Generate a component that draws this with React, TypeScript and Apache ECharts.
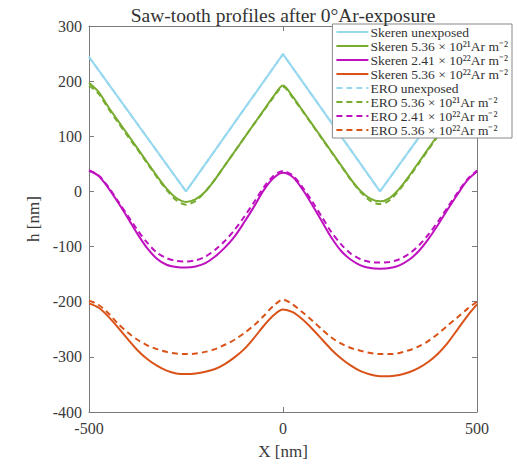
import React, { useEffect, useRef } from "react";
import * as echarts from "echarts";

// x positions (nm)
const xs = [
  -500, -475, -450, -425, -400, -375, -350, -325, -300, -275, -250, -225, -200, -175, -150, -125, -100, -75, -50, -25,
  0, 25, 50, 75, 100, 125, 150, 175, 200, 225, 250, 275, 300, 325, 350, 375, 400, 425, 450, 475, 500,
];

// Skeren unexposed (ideal triangle)
const xsUnexposed = [-500, -250, 0, 250, 500];
const skerenUnexposed = [244, 0, 249, 0, 244];
const eroUnexposed = [244, 0, 249, 0, 244];

const skeren536e21 = [
  197, 180, 153, 128, 103, 78, 53, 28, 5, -12, -19, -14, 0, 22, 47, 72, 97, 122, 147, 172,
  192, 172, 147, 122, 97, 72, 47, 22, 1, -13, -18, -12, 5, 28, 53, 78, 103, 128, 153, 178, 198,
];
const ero536e21 = [
  192, 177, 150, 125, 100, 76, 51, 26, 3, -16, -24, -17, 0, 22, 47, 72, 97, 122, 146, 170,
  190, 170, 146, 121, 96, 71, 46, 21, -1, -17, -23, -16, 3, 26, 51, 76, 101, 126, 151, 175, 193,
];

const skeren241e22 = [
  38, 28, 6, -20, -48, -77, -103, -122, -133, -137, -138, -136, -130, -118, -102, -82, -56, -28, 2, 24,
  34, 26, 4, -24, -54, -84, -108, -124, -134, -139, -140, -139, -134, -124, -108, -86, -60, -32, -5, 20, 36,
];
const ero241e22 = [
  38, 29, 8, -18, -44, -70, -93, -111, -121, -126, -127, -125, -118, -106, -90, -70, -46, -20, 7, 28,
  37, 29, 8, -18, -46, -74, -96, -113, -123, -128, -129, -128, -123, -113, -98, -78, -54, -28, -2, 22, 38,
];

const skeren536e22 = [
  -203, -211, -227, -247, -268, -288, -304, -316, -325, -330, -331, -330, -327, -322, -313, -301, -286, -266, -244, -225,
  -214, -219, -232, -249, -268, -287, -303, -316, -326, -332, -335, -335, -333, -328, -320, -309, -294, -274, -250, -226, -205,
];
const ero536e22 = [
  -198, -206, -221, -240, -256, -269, -279, -286, -291, -294, -295, -294, -291, -286, -278, -269, -257, -243, -226, -208,
  -196, -205, -219, -234, -250, -265, -276, -284, -289, -293, -295, -295, -293, -288, -281, -271, -258, -243, -228, -213, -200,
];

const xTicks = [-500, 0, 500];
const yTicks = [-400, -300, -200, -100, 0, 100, 200, 300];

const CYAN = "#97d8ef";
const GREEN = "#77ac30";
const MAGENTA = "#bf10bf";
const ORANGE = "#d95319";
const FONT = "Liberation Serif";

function pairs(x: number[], y: number[]) {
  return x.map((v, i) => [v, y[i]]);
}

export default function App() {
  const ref = useRef<HTMLDivElement>(null);
  useEffect(() => {
    if (!ref.current) return;
    const chart = echarts.init(ref.current, null, { renderer: "svg" });
    const solid = (name: string, color: string, x: number[], y: number[], smooth: boolean) => ({
      name,
      type: "line",
      data: pairs(x, y),
      symbol: "none",
      smooth: smooth ? 0.3 : false,
      lineStyle: { color, width: 2, type: "solid" },
      itemStyle: { color },
      z: 2,
    });
    const dashed = (name: string, color: string, x: number[], y: number[], smooth: boolean) => ({
      name,
      type: "line",
      data: pairs(x, y),
      symbol: "none",
      smooth: smooth ? 0.3 : false,
      lineStyle: { color, width: 2, type: [6, 4] },
      itemStyle: { color },
      z: 3,
    });
    const axisColor = "#7a7a7a";
    const labelColor = "#3a3a3a";
    const frameAxis = {
      axisLine: { show: true, onZero: false, lineStyle: { color: axisColor, width: 1 } },
      axisTick: { show: true, inside: true, length: 5, lineStyle: { color: axisColor } },
      splitLine: { show: false },
    };
    chart.setOption({
      animation: false,
      backgroundColor: "#ffffff",
      title: {
        text: "Saw-tooth profiles after 0°Ar-exposure",
        left: 278,
        textAlign: "center",
        top: 0,
        textStyle: { fontFamily: FONT, fontSize: 19.5, fontWeight: "normal", color: "#333" },
      },
      legend: {
        orient: "vertical",
        right: 5,
        top: 24,
        itemWidth: 32,
        itemHeight: 14,
        itemGap: 0,
        padding: [1, 4, 1, 3],
        backgroundColor: "#ffffff",
        borderColor: "#888",
        borderWidth: 1,
        borderRadius: 0,
        itemStyle: { opacity: 0 },
        textStyle: { fontFamily: FONT, fontSize: 13.5, color: "#333", padding: [0, 0, 0, -3] },
      },
      grid: { left: 89, right: 40, top: 26, bottom: 51, containLabel: false },
      xAxis: [
        {
          type: "value",
          min: -500,
          max: 500,
          interval: 500,
          name: "X [nm]",
          nameLocation: "middle",
          nameGap: 31,
          nameTextStyle: { fontFamily: FONT, fontSize: 17, color: labelColor },
          ...frameAxis,
          axisLabel: {
            fontFamily: FONT,
            fontSize: 16,
            color: labelColor,
            margin: 8,
            customValues: xTicks,
          },
        },
        {
          type: "value",
          position: "top",
          min: -500,
          max: 500,
          interval: 500,
          ...frameAxis,
          axisLabel: { show: false },
        },
      ],
      yAxis: [
        {
          type: "value",
          min: -400,
          max: 300,
          interval: 100,
          name: "h [nm]",
          nameLocation: "middle",
          nameGap: 47,
          nameTextStyle: { fontFamily: FONT, fontSize: 17, color: labelColor },
          ...frameAxis,
          axisLabel: {
            fontFamily: FONT,
            fontSize: 16,
            color: labelColor,
            margin: 7,
            customValues: yTicks,
          },
        },
        {
          type: "value",
          position: "right",
          min: -400,
          max: 300,
          interval: 100,
          ...frameAxis,
          axisLabel: { show: false },
        },
      ],
      series: [
        solid("Skeren unexposed", CYAN, xsUnexposed, skerenUnexposed, false),
        solid("Skeren 5.36 × 10²¹Ar m⁻²", GREEN, xs, skeren536e21, true),
        solid("Skeren 2.41 × 10²²Ar m⁻²", MAGENTA, xs, skeren241e22, true),
        solid("Skeren 5.36 × 10²²Ar m⁻²", ORANGE, xs, skeren536e22, true),
        dashed("ERO unexposed", CYAN, xsUnexposed, eroUnexposed, false),
        dashed("ERO 5.36 × 10²¹Ar m⁻²", GREEN, xs, ero536e21, true),
        dashed("ERO 2.41 × 10²²Ar m⁻²", MAGENTA, xs, ero241e22, true),
        dashed("ERO 5.36 × 10²²Ar m⁻²", ORANGE, xs, ero536e22, true),
      ],
    });
    return () => chart.dispose();
  }, []);
  return (
    <div
      ref={ref}
      style={{ position: "absolute", left: 0, top: 0, width: 517, height: 465 }}
    />
  );
}
